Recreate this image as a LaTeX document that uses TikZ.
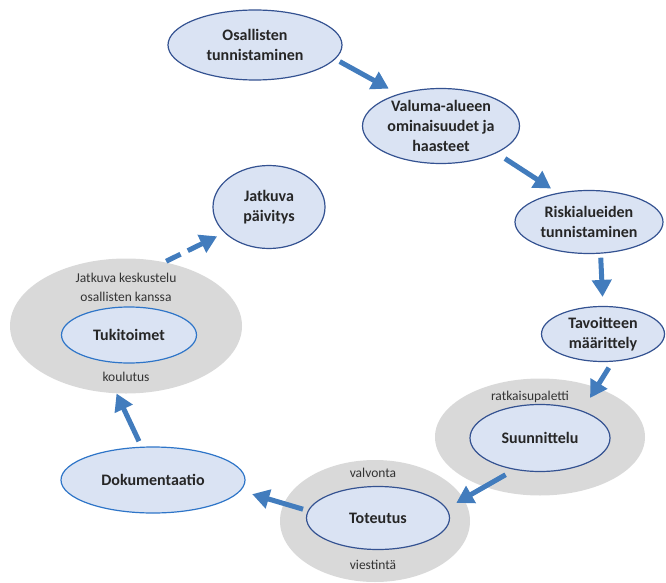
\documentclass[tikz,border=0pt]{standalone}
\usepackage{fontspec}
\setmainfont{Carlito}
\usetikzlibrary{shapes.geometric,arrows.meta}

\definecolor{phasefill}{RGB}{218,227,243}
\definecolor{phaseline}{RGB}{52,82,145}
\definecolor{toolline}{RGB}{46,117,200}
\definecolor{haze}{RGB}{217,217,217}
\definecolor{flowblue}{RGB}{66,124,189}

\tikzset{
  phase/.style={ellipse, draw=phaseline, fill=phasefill, line width=1.2pt,
    inner sep=0pt, align=center, text=black!85,
    font=\bfseries\fontsize{16}{20}\selectfont},
  haloarea/.style={ellipse, fill=haze, draw=none, inner sep=0pt},
  note/.style={align=center, text=black!80, font=\fontsize{13.5}{19}\selectfont},
  flow/.style={draw=flowblue, line width=5pt,
    -{Triangle[length=17pt,width=19pt]}}
}

\begin{document}
\begin{tikzpicture}[x=1pt,y=-1pt]
  \useasboundingbox (0,0) rectangle (666,583);

  % grey areas behind the phases
  \node[haloarea, minimum width=232, minimum height=135] (tukiBg) at (126,326) {};
  \node[haloarea, minimum width=210, minimum height=117] (suunnBg) at (540,437) {};
  \node[haloarea, minimum width=190, minimum height=122] (toteutusBg) at (375,521) {};

  % phases
  \node[phase, minimum width=174, minimum height=70] (osal) at (255,45) {Osallisten\\tunnistaminen};
  \node[phase, minimum width=157, minimum height=75] (valuma) at (441,126) {Valuma-alueen\\ominaisuudet ja\\haasteet};
  \node[phase, minimum width=148, minimum height=63] (riski) at (589,222) {Riskialueiden\\tunnistaminen};
  \node[phase, minimum width=123, minimum height=55] (tavoite) at (603,334) {Tavoitteen\\määrittely};
  \node[phase, minimum width=140, minimum height=67] (suunn) at (540,438) {Suunnittelu};
  \node[phase, minimum width=143, minimum height=63] (toteutus) at (378,518) {Toteutus};
  \node[phase, draw=toolline, minimum width=184, minimum height=66] (dokum) at (153,480) {Dokumentaatio};
  \node[phase, draw=toolline, minimum width=135, minimum height=56] (tuki) at (129,335) {Tukitoimet};
  \node[phase, minimum width=112, minimum height=83] (jatkuva) at (269,207) {Jatkuva\\päivitys};

  % notes in the grey areas
  \node[note] (keskustelu) at (126,287) {Jatkuva keskustelu\\osallisten kanssa};
  \node[note] (koulutus) at (126,377) {koulutus};
  \node[note] (paletti) at (530,397) {ratkaisupaletti};
  \node[note] (valvonta) at (373,473) {valvonta};
  \node[note] (viestinta) at (373,565) {viestintä};

  % arrows
  \foreach \from/\fa/\to/\ta/\gs/\ge in {osal/-10/valuma/143/5/11,
      valuma/-26/riski/137/10/8, riski/-70/tavoite/90/4/9,
      tavoite/-71/suunn/33/7/15, suunn/231/toteutus/8/10/11,
      toteutus/174/dokum/-7/5/12, dokum/109/tukiBg/262/6/0}{
    \draw[flow, shorten <=\gs pt, shorten >=\ge pt] (\from.\fa) -- (\to.\ta);
  }
  \draw[flow, dash pattern=on 16pt off 8pt, shorten <=2pt, shorten >=8pt] (tukiBg.59) -- (jatkuva.210);
\end{tikzpicture}
\end{document}
